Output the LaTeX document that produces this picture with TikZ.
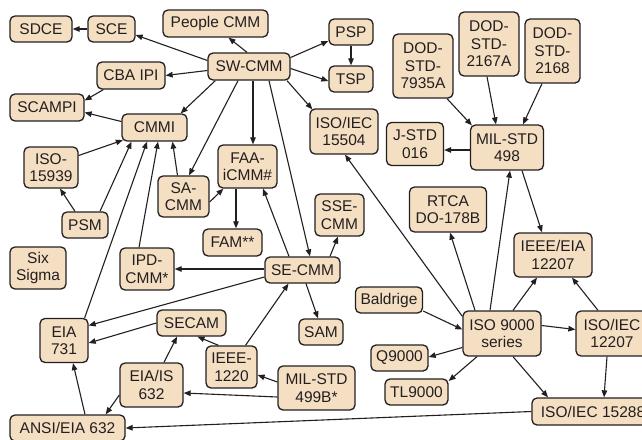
\documentclass[tikz,border=0pt]{standalone}
\usepackage{fontspec}
\setmainfont{Liberation Sans}
\usetikzlibrary{arrows.meta}
\definecolor{boxfill}{RGB}{245,223,195}
\definecolor{linec}{RGB}{35,31,32}
\definecolor{textc}{RGB}{35,31,32}
\begin{document}
\begin{tikzpicture}[x=1pt,y=-1pt,
  box/.style 2 args={draw=linec, fill=boxfill, rounded corners=5pt, line width=1.3pt,
    inner sep=0pt, align=center, text=textc,
    font=\fontsize{15.5pt}{17.5pt}\selectfont,
    minimum width=#1pt, minimum height=#2pt},
  arr/.style={draw=linec, line width=1.1pt, -{Triangle[length=7pt,width=5.5pt]}}]
\useasboundingbox (0,0) rectangle (642,439);
\fill[white] (0,0) rectangle (642,439);
\clip (0,0) rectangle (642,439);
% nodes
\node[box={62}{26}] (sdce) at (41,29) {SDCE};
\node[box={47}{26}] (sce) at (111.5,29) {SCE};
\node[box={105}{27}] (people) at (215.5,23.5) {People CMM};
\node[box={82}{27}] (swcmm) at (249,66.5) {SW-CMM};
\node[box={44}{26}] (psp) at (351,32) {PSP};
\node[box={44}{26}] (tsp) at (351,79) {TSP};
\node[box={68}{27}] (cbaipi) at (131,75.5) {CBA IPI};
\node[box={74}{27}] (scampi) at (47,107.5) {SCAMPI};
\node[box={65}{27}] (cmmi) at (154.5,127.5) {CMMI};
\node[box={54}{41}] (iso15939) at (51,167.5) {ISO-\\15939};
\node[box={46}{26}] (psm) at (85,225) {PSM};
\node[box={51}{41}] (sacmm) at (183.5,196.5) {SA-\\CMM};
\node[box={59}{43}] (faa) at (247.5,166.5) {FAA-\\iCMM\#};
\node[box={59}{27}] (fam) at (232.5,242.5) {FAM**};
\node[box={68}{45}] (iso15504) at (344,131.5) {ISO/IEC\\15504};
\node[box={49}{42}] (ssecmm) at (339.5,215) {SSE-\\CMM};
\node[box={75}{26}] (secmm) at (302.5,270) {SE-CMM};
\node[box={56}{42}] (sixsigma) at (38,268) {Six\\Sigma};
\node[box={54}{42}] (ipdcmm) at (147,269) {IPD-\\CMM*};
\node[box={48}{44}] (eia731) at (64,340.5) {EIA\\731};
\node[box={69}{26}] (secam) at (191.5,323) {SECAM};
\node[box={51}{42}] (ieee1220) at (231.5,367) {IEEE-\\1220};
\node[box={63}{44}] (eiais632) at (151.5,385) {EIA/IS\\632};
\node[box={77}{44}] (milstd499) at (316.5,388) {MIL-STD\\499B*};
\node[box={115}{26}] (ansi632) at (67.5,428) {ANSI/EIA 632};
\node[box={44}{26}] (sam) at (321,332) {SAM};
\node[box={67}{26}] (baldrige) at (389,300) {Baldrige};
\node[box={57}{26}] (q9000) at (399.5,358) {Q9000};
\node[box={63}{26}] (tl9000) at (416.5,392) {TL9000};
\node[box={78}{45}] (iso9000) at (502,333.5) {ISO 9000\\series};
\node[box={72}{45}] (iso12207) at (612,333.5) {ISO/IEC\\12207};
\node[box={122}{27}] (iso15288) at (593,411.5) {ISO/IEC 15288};
\node[box={78}{44}] (ieeeeia) at (553,255) {IEEE/EIA\\12207};
\node[box={77}{45}] (rtca) at (448,209.5) {RTCA\\DO-178B};
\node[box={73}{45}] (milstd498) at (507,147.5) {MIL-STD\\498};
\node[box={57}{43}] (jstd016) at (415,144) {J-STD\\016};
\node[box={60}{64}] (dod7935) at (423,66) {DOD-\\STD-\\7935A};
\node[box={60}{64}] (dod2167) at (489,44) {DOD-\\STD-\\2167A};
\node[box={55}{64}] (dod2168) at (552.5,51) {DOD-\\STD-\\2168};
% connectors
\draw[arr] (sce) -- (sdce);
\draw[arr] ([yshift=6pt]swcmm.west) -- ([yshift=-6pt]sce.east);
\draw[arr] ([xshift=-2pt]swcmm.north) -- ([xshift=13pt]people.south);
\draw[arr] ([yshift=9pt]swcmm.east) -- ([yshift=-9pt]psp.west);
\draw[arr] (psp) -- (tsp);
\draw[arr] ([yshift=-2pt]swcmm.east) -- ([yshift=-2pt]tsp.west);
\draw[arr] ([yshift=-4pt]swcmm.west) -- (cbaipi.east);
\draw[arr] ([xshift=7pt]cbaipi.south west) -- ([yshift=7pt]scampi.east);
\draw[arr] ([yshift=6pt]cmmi.west) -- ([yshift=-5pt]scampi.east);
\draw[arr] ([xshift=8pt]swcmm.south west) -- ([xshift=-7pt]cmmi.north east);
\draw[arr] ([xshift=-11pt]swcmm.south) -- ([xshift=5.5pt]sacmm.north);
\draw[arr] ([xshift=4pt]swcmm.south) -- ([xshift=5.5pt]faa.north);
\draw[arr] ([xshift=20pt]swcmm.south) -- ([xshift=7.5pt]secmm.north);
\draw[arr] ([xshift=38pt]swcmm.south) -- ([xshift=3pt,yshift=-1pt]iso15504.north west);
\draw[arr] ([xshift=-6pt]sacmm.north) -- ([xshift=18pt]cmmi.south);
\draw[arr] ([yshift=-5.5pt]sacmm.east) -- ([xshift=6pt]faa.south west);
\draw[arr] ([xshift=-11.5pt]faa.south) -- ([xshift=3.5pt]fam.north);
\draw[arr] ([xshift=-13.5pt]secmm.north) -- ([xshift=15.5pt]faa.south);
\draw[arr] ([xshift=27.5pt]secmm.north) -- ([xshift=-1.5pt]ssecmm.south);
\draw[arr] ([yshift=1pt]secmm.west) -- (ipdcmm.east);
\draw[arr] ([yshift=-7pt]secmm.west) -- ([yshift=15pt]eia731.east);
\draw[arr] ([xshift=3.5pt]secmm.south) -- ([xshift=-3pt]sam.north);
\draw[arr] ([yshift=12pt]iso15939.east) -- ([xshift=1.5pt,yshift=1.5pt]cmmi.south west);
\draw[arr] ([xshift=-10pt]psm.north) -- ([xshift=9pt]iso15939.south);
\draw[arr] ([xshift=15pt]psm.north) -- ([xshift=-23pt]cmmi.south);
\draw[arr] ([xshift=-4pt]eia731.north east) -- ([xshift=-7.5pt]cmmi.south);
\draw[arr] ([xshift=-8pt]ipdcmm.north) -- ([xshift=3.5pt]cmmi.south);
\draw[arr] ([xshift=14pt]ieee1220.north) -- ([xshift=-14pt]secmm.south);
\draw[arr] ([xshift=-13pt]ieee1220.north) -- ([xshift=6pt]secam.south);
\draw[arr] ([xshift=12.5pt]eiais632.north) -- ([xshift=-14.5pt]secam.south);
\draw[arr] ([yshift=-10pt]eiais632.west) -- ([xshift=-20pt]ansi632.north east);
\draw[arr] (secam.west) -- ([yshift=-2.5pt]eia731.east);
\draw[arr] ([xshift=17.5pt]ansi632.north) -- ([xshift=9pt]eia731.south);
\draw[arr] ([yshift=6pt]milstd499.west) -- ([yshift=-8pt]ieee1220.east);
\draw[arr] ([yshift=-9pt]milstd499.west) -- ([yshift=-8pt]eiais632.east);
\draw[arr] (iso15288.west) -- (ansi632.east);
\draw[arr] ([yshift=-6pt]iso9000.north west) -- ([xshift=1pt]iso15504.south);
\draw[arr] ([xshift=-27pt]iso9000.north) -- ([xshift=2pt]rtca.south);
\draw[arr] ([xshift=-12pt]iso9000.north) -- ([xshift=3pt]milstd498.south);
\draw[arr] ([xshift=15pt]milstd498.south) -- ([xshift=-11pt]ieeeeia.north);
\draw[arr] ([xshift=11pt]iso9000.north) -- ([xshift=-16pt]ieeeeia.south);
\draw[arr] ([xshift=-14pt]iso12207.north) -- ([xshift=19pt]ieeeeia.south);
\draw[arr] ([yshift=8pt]iso9000.east) -- ([yshift=4pt]iso12207.west);
\draw[arr] ([xshift=-5pt]iso12207.south) -- ([xshift=11pt]iso15288.north);
\draw[arr] ([xshift=11pt]iso9000.south) -- ([xshift=-45pt]iso15288.north);
\draw[arr] ([yshift=-14pt]iso9000.west) -- ([yshift=1pt]q9000.east);
\draw[arr] ([xshift=-25pt]iso9000.south) -- ([yshift=11pt]tl9000.east);
\draw[arr] ([yshift=-11pt]baldrige.east) -- ([yshift=4pt]iso9000.west);
\draw[arr] ([xshift=24pt]dod7935.south) -- ([xshift=2pt,yshift=-1pt]milstd498.north west);
\draw[arr] ([xshift=-2pt]dod2167.south) -- ([xshift=-11pt]milstd498.north);
\draw[arr] ([xshift=-10.5pt]dod2168.south) -- ([xshift=16pt]milstd498.north);
\draw[arr] ([yshift=-2.5pt]milstd498.west) -- ([yshift=-6pt]jstd016.east);
\end{tikzpicture}
\end{document}
